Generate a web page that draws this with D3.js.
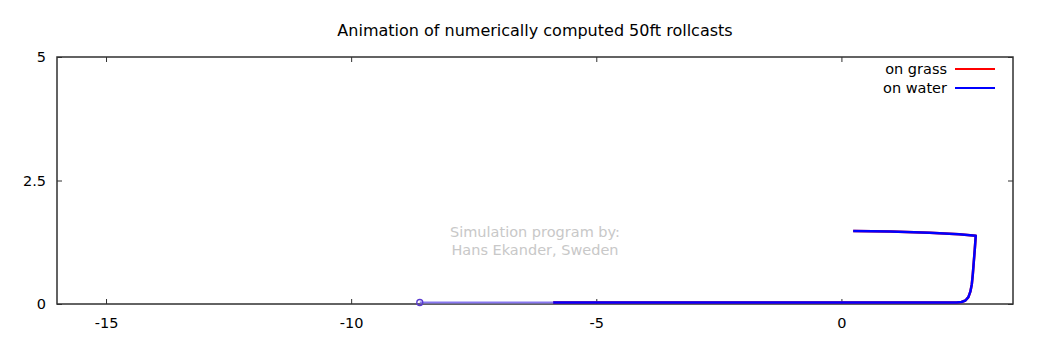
<!DOCTYPE html>
<html><head><meta charset="utf-8">
<script src="https://cdn.jsdelivr.net/npm/d3@7"></script>
<style>body{margin:0;background:#fff}svg{display:block}text{font-family:"DejaVu Sans",sans-serif;}</style>
</head><body><svg id="c" width="1039" height="345"></svg>
<script>
const title = "Animation of numerically computed 50ft rollcasts";
const xTicks = [-15, -10, -5, 0];
const xTickLabels = ["-15", "-10", "-5", "0"];
const yTicks = [0, 2.5, 5];
const yTickLabels = ["0", "2.5", "5"];
const seriesNames = ["on grass", "on water"];
const seriesColors = ["#ff0000", "#0000ff"];
// fly line path (x, y in metres)
const lineX = [0.24, 1.0, 1.8, 2.4, 2.74, 2.72, 2.70, 2.68, 2.66, 2.63, 2.59, 2.53, 2.45, 2.35, 2.1, -5.88];
const lineY = [1.48, 1.47, 1.44, 1.41, 1.38, 1.10, 0.85, 0.60, 0.40, 0.25, 0.14, 0.07, 0.04, 0.03, 0.03, 0.03];
// trailing part of line lying on the ground
const trailX = [-5.88, -8.6];
const trailY = [0.03, 0.03];
const tipX = [-8.6];
const tipY = [0.03];
const credit = ["Simulation program by:", "Hans Ekander, Sweden"];

const svg = d3.select("#c");
const L = 57, R = 1013, T = 57, B = 304;
const x = d3.scaleLinear().domain([-16, 3.5]).range([L, R]);
const y = d3.scaleLinear().domain([0, 5]).range([B, T]);

svg.append("text").attr("x", 535).attr("y", 36).attr("text-anchor", "middle")
  .attr("font-size", 16).attr("fill", "#000").text(title);

// credit
svg.selectAll("text.cr").data(credit).enter().append("text")
  .attr("x", 535).attr("y", (d, i) => 237 + i * 18).attr("text-anchor", "middle")
  .attr("font-size", 14.5).attr("fill", "#c8c8c8").text(d => d);

// axes
const ax = d3.axisBottom(x).tickValues(xTicks).tickSize(-5).tickPadding(14).tickFormat((d, i) => xTickLabels[i]);
svg.append("g").attr("transform", `translate(0,${B})`).call(ax);
const ay = d3.axisLeft(y).tickValues(yTicks).tickSize(-5).tickPadding(11).tickFormat((d, i) => yTickLabels[i]);
svg.append("g").attr("transform", `translate(${L},0)`).call(ay);
const axT = d3.axisTop(x).tickValues(xTicks).tickSize(-5).tickFormat("");
svg.append("g").attr("transform", `translate(0,${T})`).call(axT);
const ayR = d3.axisRight(y).tickValues(yTicks).tickSize(-5).tickFormat("");
svg.append("g").attr("transform", `translate(${R},0)`).call(ayR);
svg.selectAll(".domain").remove();
svg.selectAll(".tick line").attr("stroke", "#303030").attr("stroke-width", 1);
svg.selectAll(".tick text").attr("font-size", 14.5).attr("fill", "#000").attr("font-family", "DejaVu Sans");
svg.append("rect").attr("x", L).attr("y", T).attr("width", R - L).attr("height", B - T)
  .attr("fill", "none").attr("stroke", "#303030").attr("stroke-width", 1.5);

const pts = lineX.map((v, i) => [v, lineY[i]]);
const lineGen = d3.line().x(d => x(d[0])).y(d => y(d[1]));

// grass (red) under water (blue)
svg.append("path").attr("d", lineGen(pts)).attr("fill", "none").attr("stroke", seriesColors[0]).attr("stroke-width", 2.5).attr("stroke-linejoin", "round");
svg.append("path").attr("d", lineGen(pts)).attr("fill", "none").attr("stroke", seriesColors[1]).attr("stroke-width", 2.5).attr("stroke-linejoin", "round");
const trail = trailX.map((v, i) => [v, trailY[i]]);
svg.append("path").attr("d", lineGen(trail))
  .attr("fill", "none").attr("stroke", "#8878f0").attr("stroke-width", 2);
svg.selectAll("circle.tip").data(tipX).enter().append("circle")
  .attr("cx", d => x(d)).attr("cy", (d, i) => y(tipY[i])).attr("r", 3)
  .attr("fill", "none").attr("stroke", "#5a3ad0").attr("stroke-width", 1.3);

// legend
const lg = svg.selectAll("g.lg").data(seriesNames).enter().append("g")
  .attr("transform", (d, i) => `translate(0,${69 + i * 19})`);
lg.append("text").attr("x", 947).attr("y", 5).attr("text-anchor", "end").attr("font-size", 14.5).text(d => d);
lg.append("line").attr("x1", 955).attr("x2", 995).attr("y1", 0).attr("y2", 0)
  .attr("stroke", (d, i) => seriesColors[i]).attr("stroke-width", 2);
</script></body></html>
